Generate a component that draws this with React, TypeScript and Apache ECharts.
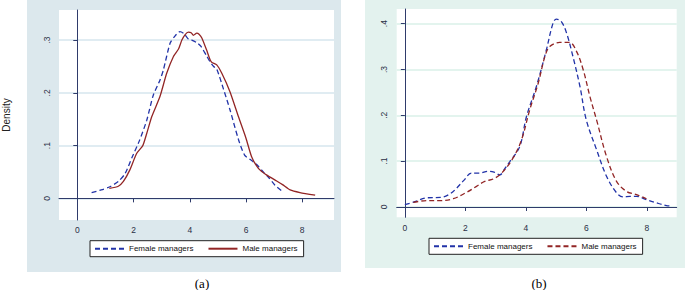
import React, { useEffect, useRef } from "react";
import * as echarts from "echarts";

// ---------- data ----------
const xTicks = [0, 2, 4, 6, 8];
const yTicksA = [0, 0.1, 0.2, 0.3];
const yTicksB = [0, 0.1, 0.2, 0.3, 0.4];
const legendNames = ["Female managers", "Male managers"];
const panelTitles = ["(a)", "(b)"];
const yAxisTitle = "Density";

// panel (a): kernel density, [score, density]
const femaleA: [number, number][] = [
  [0.51, 0.011], [0.85, 0.016], [1.16, 0.022], [1.46, 0.032], [1.7, 0.047],
  [1.95, 0.078], [2.2, 0.108], [2.47, 0.148], [2.7, 0.195], [2.94, 0.224],
  [3.06, 0.243], [3.3, 0.294], [3.45, 0.306], [3.65, 0.316], [3.8, 0.312],
  [3.95, 0.302], [4.07, 0.3], [4.25, 0.295], [4.4, 0.288], [4.6, 0.27],
  [4.72, 0.259], [4.85, 0.25], [4.96, 0.245], [5.2, 0.207], [5.43, 0.168],
  [5.73, 0.112], [5.95, 0.082], [6.14, 0.074], [6.38, 0.064], [6.6, 0.051],
  [6.8, 0.04], [7.03, 0.025], [7.3, 0.013],
];
const maleA: [number, number][] = [
  [1.14, 0.019], [1.46, 0.023], [1.64, 0.032], [1.87, 0.054], [2.11, 0.085],
  [2.33, 0.1], [2.47, 0.123], [2.65, 0.155], [2.94, 0.193], [3.18, 0.237],
  [3.42, 0.269], [3.6, 0.283], [3.72, 0.3], [3.83, 0.31], [3.95, 0.315],
  [4.05, 0.314], [4.13, 0.309], [4.25, 0.313], [4.33, 0.311], [4.43, 0.304],
  [4.6, 0.281], [4.72, 0.263], [4.78, 0.258], [4.96, 0.253], [5.14, 0.237],
  [5.43, 0.202], [5.73, 0.155], [6.0, 0.114], [6.2, 0.079], [6.44, 0.057],
  [6.74, 0.044], [7.09, 0.033], [7.3, 0.026], [7.57, 0.016], [7.92, 0.011],
  [8.46, 0.006],
];

// panel (b)
const femaleB: [number, number][] = [
  [0, 0.005], [0.35, 0.012], [0.72, 0.02], [1.21, 0.021], [1.5, 0.029],
  [1.71, 0.041], [1.95, 0.058], [2.2, 0.074], [2.48, 0.074], [2.75, 0.078],
  [2.95, 0.076], [3.14, 0.07], [3.3, 0.083], [3.47, 0.099], [3.8, 0.132],
  [4.02, 0.197], [4.35, 0.263], [4.68, 0.343], [4.9, 0.401], [5.01, 0.41],
  [5.18, 0.404], [5.35, 0.379], [5.56, 0.328], [5.79, 0.263], [6.0, 0.19],
  [6.34, 0.125], [6.67, 0.067], [7.0, 0.031], [7.22, 0.022], [7.45, 0.023],
  [7.66, 0.023], [7.99, 0.016], [8.32, 0.009], [8.65, 0.003], [8.85, 0.002],
];
const maleB: [number, number][] = [
  [0.28, 0.01], [0.72, 0.014], [1.16, 0.014], [1.6, 0.018], [2.04, 0.032],
  [2.37, 0.045], [2.64, 0.056], [2.92, 0.061], [3.2, 0.074], [3.58, 0.107],
  [3.86, 0.147], [4.13, 0.212], [4.41, 0.27], [4.63, 0.328], [4.79, 0.35],
  [5.12, 0.359], [5.45, 0.359], [5.68, 0.339], [5.9, 0.299], [6.12, 0.241],
  [6.34, 0.19], [6.67, 0.11], [7.0, 0.056], [7.33, 0.034], [7.66, 0.027],
  [7.99, 0.018],
];

// ---------- styles ----------
const BLUE = "#2233a8";
const RED = "#922525";
const AXIS = "#2f3b6b";
const SANS = '"Liberation Sans", Arial, Helvetica, sans-serif';
const SERIF = '"Liberation Serif", "Times New Roman", serif';
const DASH = [5, 3];

const fmtY = (v: number) => (v === 0 ? "0" : v.toFixed(1).replace(/^0\./, "."));

function xAxisCfg(gridIndex: number, min: number, max: number, margin: number) {
  return {
    type: "value" as const,
    gridIndex,
    min,
    max,
    axisLine: { show: true, lineStyle: { color: AXIS, width: 1 } },
    axisTick: { show: true, length: 4, lineStyle: { color: AXIS }, customValues: xTicks },
    axisLabel: {
      customValues: xTicks,
      margin,
      fontSize: 8.5,
      fontFamily: SANS,
      color: "#2a2f45",
    },
    splitLine: { show: false },
  };
}

function yAxisCfg(gridIndex: number, min: number, max: number, ticks: number[], gridColor: string) {
  return {
    type: "value" as const,
    gridIndex,
    min,
    max,
    axisLine: { show: true, lineStyle: { color: AXIS, width: 1 } },
    axisTick: { show: true, length: 4, lineStyle: { color: AXIS }, customValues: ticks },
    axisLabel: {
      customValues: ticks,
      rotate: 90,
      margin: 8,
      fontSize: 8.5,
      fontFamily: SANS,
      color: "#2a2f45",
      formatter: fmtY,
    },
    splitLine: { show: true, lineStyle: { color: gridColor, width: 1.6 } },
  };
}

function legendCfg(left: number, top: number, names: string[]) {
  return {
    data: names,
    left,
    top,
    orient: "horizontal" as const,
    itemWidth: 29,
    itemHeight: 10,
    itemGap: 14,
    padding: [4, 6, 4, 4],
    borderColor: "#222",
    borderWidth: 1,
    borderRadius: 0,
    backgroundColor: "#ffffff",
    selectedMode: false,
    itemStyle: { opacity: 0, borderWidth: 0 },
    textStyle: { fontSize: 8, fontFamily: SANS, color: "#111" },
    formatter: (n: string) => n.split("|")[0],
  };
}

export default function App() {
  const ref = useRef<HTMLDivElement>(null);

  useEffect(() => {
    if (!ref.current) return;
    const chart = echarts.init(ref.current, null, { renderer: "svg" });
    const bNames = legendNames.map((n) => n + "|b");

    const option: any = {
      animation: false,
      backgroundColor: "#ffffff",
      graphic: [
        { type: "rect", z: -10, silent: true, shape: { x: 27, y: 0, width: 314, height: 272 }, style: { fill: "#dce8ed" } },
        { type: "rect", z: -10, silent: true, shape: { x: 365, y: 0, width: 320, height: 268 }, style: { fill: "#e3f2ee" } },
        {
          type: "text", x: 6, y: 115, rotation: Math.PI / 2, silent: true,
          style: { text: yAxisTitle, fontSize: 10, fontFamily: SANS, fill: "#222", align: "center", verticalAlign: "middle" },
        },
        {
          type: "text", x: 202, y: 283, silent: true,
          style: { text: panelTitles[0], fontSize: 13, fontFamily: SERIF, fill: "#000", align: "center", verticalAlign: "middle" },
        },
        {
          type: "text", x: 539, y: 283, silent: true,
          style: { text: panelTitles[1], fontSize: 13, fontFamily: SERIF, fill: "#000", align: "center", verticalAlign: "middle" },
        },
      ],
      grid: [
        { left: 59, top: 10, width: 275, height: 210, show: true, backgroundColor: "#ffffff", borderWidth: 0, containLabel: false, outerBoundsMode: "none" },
        { left: 396.7, top: 9, width: 280, height: 208.3, show: true, backgroundColor: "#ffffff", borderWidth: 0, containLabel: false, outerBoundsMode: "none" },
      ],
      xAxis: [xAxisCfg(0, -0.65, 9.13, 5), xAxisCfg(1, -0.27, 8.99, 6)],
      yAxis: [
        yAxisCfg(0, -0.041, 0.357, yTicksA, "#d6e6ee"),
        yAxisCfg(1, -0.0225, 0.432, yTicksB, "#daf0e8"),
      ],
      legend: [legendCfg(90, 240.7, legendNames), legendCfg(429, 238.3, bNames)],
      series: [
        {
          type: "line", name: legendNames[0], xAxisIndex: 0, yAxisIndex: 0, data: femaleA,
          symbol: "none", smooth: 0.25, lineStyle: { color: BLUE, width: 1.3, type: DASH }, itemStyle: { color: BLUE },
        },
        {
          type: "line", name: legendNames[1], xAxisIndex: 0, yAxisIndex: 0, data: maleA,
          symbol: "none", smooth: 0.2, lineStyle: { color: RED, width: 1.3, type: "solid" }, itemStyle: { color: RED },
        },
        {
          type: "line", name: bNames[0], xAxisIndex: 1, yAxisIndex: 1, data: femaleB,
          symbol: "none", smooth: 0.35, lineStyle: { color: BLUE, width: 1.3, type: DASH }, itemStyle: { color: BLUE },
        },
        {
          type: "line", name: bNames[1], xAxisIndex: 1, yAxisIndex: 1, data: maleB,
          symbol: "none", smooth: 0.35, lineStyle: { color: RED, width: 1.3, type: DASH }, itemStyle: { color: RED },
        },
      ],
    };

    chart.setOption(option);
    return () => chart.dispose();
  }, []);

  return (
    <div
      ref={ref}
      style={{ position: "absolute", left: 0, top: 0, width: 685, height: 290 }}
    />
  );
}
